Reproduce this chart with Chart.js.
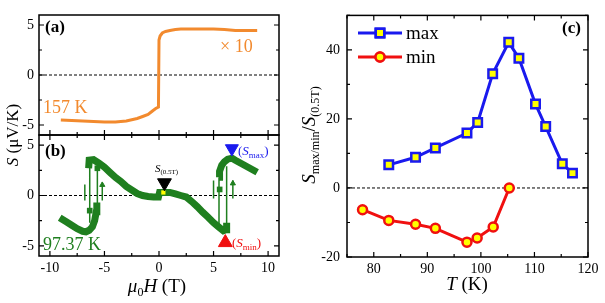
<!DOCTYPE html>
<html>
<head>
<meta charset="utf-8">
<script src="https://cdn.jsdelivr.net/npm/chart.js@4.4.0/dist/chart.umd.min.js"></script>
<style>
body { margin: 0; background: #fff; }
#wrap { position: relative; width: 605px; height: 303px; }
canvas { position: absolute; left: 0; top: 0; }
</style>
</head>
<body>
<div id="wrap">
  <canvas id="chartA" width="605" height="303"></canvas>
  <canvas id="chartB" width="605" height="303"></canvas>
  <canvas id="chartC" width="605" height="303"></canvas>
</div>
<script>
// ---- tick labels ----
var fieldTicks = [-10, -5, 0, 5, 10];
var seebeckTicks = [-5, 0, 5];
var tempTicks = [80, 90, 100, 110, 120];
var ratioTicks = [-20, 0, 20, 40];

// ---- panel (a): 157 K, S x10 vs field ----
var fieldA = [-9, -8, -7, -6, -5, -4, -3, -2, -1.5, -1, -0.6, -0.3, -0.05, 0.0, 0.1, 0.3, 0.6, 1.0, 1.5, 2, 3, 4, 5, 6, 7, 8, 9];
var seebeckA = [-4.5, -4.55, -4.6, -4.65, -4.7, -4.7, -4.6, -4.35, -4.15, -3.95, -3.6, -3.35, -3.2, 3.5, 3.9, 4.2, 4.35, 4.45, 4.55, 4.6, 4.6, 4.6, 4.6, 4.55, 4.45, 4.45, 4.45];

// ---- panel (b): 97.37 K ----
var fieldMain = [-6.45, -6.4, -6.0, -5.5, -5.0, -4.5, -4.0, -3.5, -3.0, -2.5, -2.0, -1.5, -1.0, -0.5, -0.05, 0.05, 0.5, 1.0, 1.5, 2.0, 2.5, 3.0, 3.5, 4.0, 4.5, 5.0, 5.5, 5.9, 6.15, 6.2];
var seebeckMain = [2.7, 3.5, 3.55, 3.2, 2.8, 2.3, 1.8, 1.4, 0.9, 0.55, 0.2, 0.0, -0.1, -0.15, -0.15, 0.3, 0.3, 0.3, 0.15, 0.0, -0.15, -0.6, -1.1, -1.65, -2.15, -2.7, -3.15, -3.5, -3.4, -2.7];
var fieldUp = [5.5, 5.55, 5.75, 6.0, 6.3, 6.7, 7.0, 7.5, 8.0, 8.5, 9.0];
var seebeckUp = [1.8, 2.4, 3.0, 3.35, 3.6, 3.7, 3.5, 3.2, 2.9, 2.6, 2.3];
var fieldLow = [-9.1, -8.5, -8.0, -7.5, -7.0, -6.7, -6.4, -6.1, -5.9, -5.75, -5.7];
var seebeckLow = [-2.2, -2.6, -2.95, -3.3, -3.55, -3.6, -3.45, -3.1, -2.5, -1.6, -0.7];
var jumpField = [-6.35, -5.65, 5.5, 6.2];
var jumpLow = [-2.7, -1.5, -3.4, -3.4];
var jumpHigh = [3.3, 2.8, 1.8, 2.9];
var arrowField = [-6.8, -5.2, 5.0, 6.77];
var arrowLow = [-0.5, -0.5, -0.3, -0.3];
var arrowHigh = [1.1, 1.3, 1.5, 1.5];
var headField = [-5.2, 6.77];
var headS = [1.05, 1.2];
var dotField = [-6.35, -5.65, 5.56];
var dotS = [-1.5, 2.7, 0.6];

// ---- panel (c): ratio vs T ----
var tempMax = [82.8, 87.8, 91.5, 97.4, 99.4, 102.2, 105.2, 107.1, 110.2, 112.1, 115.2, 117.1];
var ratioMax = [6.7, 8.9, 11.6, 15.9, 19.0, 33.1, 42.2, 37.6, 24.3, 17.8, 7.0, 4.3];
var tempMin = [77.9, 82.8, 87.8, 91.5, 97.4, 99.3, 102.3, 105.3];
var ratioMin = [-6.3, -9.4, -10.5, -11.7, -15.7, -14.5, -11.3, 0];

var SERIF = '"Liberation Serif", "DejaVu Serif", serif';
var ORANGE = '#f28a2e';
var GREEN = '#1f7f1f';
var BLUE = '#1a1aee';
var RED = '#f01010';

function pts(xs, ys) {
    return xs.map(function(x, i){ return {x: x, y: ys[i]}; });
}

// vertical segments separated by gaps
function segs(xs, lo, hi) {
    var out = [];
    xs.forEach(function(x, i){
        out.push({x: x, y: lo[i]}, {x: x, y: hi[i]}, {x: x, y: null});
    });
    return out;
}

function zeroLine(min, max) {
    return {
        data: [{x: min, y: 0}, {x: max, y: 0}],
        borderColor: '#000', borderWidth: 1, borderDash: [3, 2],
        pointRadius: 0, showLine: true, order: 10
    };
}

function fixedTicks(values) {
    return function(scale){
        scale.ticks = values.map(function(v){ return {value: v}; });
    };
}

// draw a sequence of text runs [text, font, dy, color]
function drawRuns(ctx, x, y, runs, align) {
    var w = 0;
    runs.forEach(function(r){ ctx.font = r[1]; w += ctx.measureText(r[0]).width; });
    var cx = align === 'center' ? x - w / 2 : x;
    ctx.textAlign = 'left';
    ctx.textBaseline = 'alphabetic';
    runs.forEach(function(r){
        ctx.font = r[1];
        if (r[3]) ctx.fillStyle = r[3];
        ctx.fillText(r[0], cx, y + (r[2] || 0));
        cx += ctx.measureText(r[0]).width;
    });
}

function drawRotated(ctx, x, y, runs) {
    ctx.save();
    ctx.translate(x, y);
    ctx.rotate(-Math.PI / 2);
    drawRuns(ctx, 0, 0, runs, 'center');
    ctx.restore();
}

// frame + inward ticks
var framePlugin = {
    id: 'frame',
    afterDatasetsDraw: function(chart, args, opts) {
        var ctx = chart.ctx, a = chart.chartArea;
        ctx.save();
        ctx.strokeStyle = '#000';
        ctx.lineWidth = 1.5;
        ctx.strokeRect(a.left, a.top, a.right - a.left, a.bottom - a.top);
        ctx.lineWidth = 1.2;
        var xs = chart.scales.x, ys = chart.scales.y;
        function each(scale, minor, major, fn) {
            var v = Math.ceil(scale.min / minor) * minor;
            for (; v <= scale.max + 1e-9; v += minor) {
                var isMajor = Math.abs(v / major - Math.round(v / major)) < 1e-6;
                fn(scale.getPixelForValue(v), isMajor ? 5 : 3);
            }
        }
        ctx.beginPath();
        each(xs, opts.xMinor, opts.xMajor, function(p, len){
            if (opts.sides.indexOf('b') >= 0) { ctx.moveTo(p, a.bottom); ctx.lineTo(p, a.bottom - len); }
            if (opts.sides.indexOf('t') >= 0) { ctx.moveTo(p, a.top); ctx.lineTo(p, a.top + len); }
        });
        each(ys, opts.yMinor, opts.yMajor, function(p, len){
            ctx.moveTo(a.left, p); ctx.lineTo(a.left + len, p);
            ctx.moveTo(a.right, p); ctx.lineTo(a.right - len, p);
        });
        ctx.stroke();
        ctx.restore();
    }
};

var labelPlugin = {
    id: 'labels',
    afterDraw: function(chart, args, opts) {
        var ctx = chart.ctx;
        ctx.save();
        opts.draw(ctx);
        ctx.restore();
    }
};

function baseOptions(pad, yWidth, xHeight, xTicks, yTicks, yPad) {
    return {
        responsive: false,
        animation: false,
        devicePixelRatio: 1,
        layout: { padding: pad },
        plugins: { legend: { display: false }, tooltip: { enabled: false } },
        elements: { line: { tension: 0 } },
        scales: {
            x: {
                type: 'linear',
                grid: { display: false, drawTicks: false, tickLength: 0 },
                border: { display: false },
                ticks: { font: { family: SERIF, size: 14 }, color: '#000', padding: 4, maxRotation: 0, autoSkip: false },
                afterBuildTicks: fixedTicks(xTicks),
                afterFit: function(s){ s.height = xHeight; }
            },
            y: {
                type: 'linear',
                grid: { display: false, drawTicks: false, tickLength: 0 },
                border: { display: false },
                ticks: { font: { family: SERIF, size: 14 }, color: '#000', padding: yPad, autoSkip: false },
                afterBuildTicks: fixedTicks(yTicks),
                afterFit: function(s){ s.width = yWidth; }
            }
        }
    };
}

// ---------- chart A ----------
var optA = baseOptions({left: 0, top: 15, right: 326, bottom: 168}, 39, 0, fieldTicks, seebeckTicks, 5);
optA.scales.x.min = -11; optA.scales.x.max = 11;
optA.scales.x.ticks.display = false;
optA.scales.y.min = -6; optA.scales.y.max = 6;
optA.plugins.frame = { xMinor: 2.5, xMajor: 5, yMinor: 2.5, yMajor: 5, sides: 'b' };
optA.plugins.labels = { draw: function(ctx){
    ctx.fillStyle = '#000';
    drawRuns(ctx, 45, 32, [['(a)', 'bold 17px ' + SERIF]]);
    drawRuns(ctx, 43, 113, [['157 K', '18px ' + SERIF, 0, ORANGE]]);
    drawRuns(ctx, 220, 52, [['\u00d7 10', '18px ' + SERIF, 0, ORANGE]]);
    ctx.fillStyle = '#000';
    drawRotated(ctx, 18, 135, [['S', 'italic 17px ' + SERIF], [' (\u03bcV/K)', '17px ' + SERIF]]);
}};

new Chart(document.getElementById('chartA'), {
    type: 'scatter',
    data: { datasets: [
        { data: pts(fieldA, seebeckA), showLine: true, borderColor: ORANGE, borderWidth: 3, pointRadius: 0 },
        zeroLine(-11, 11)
    ]},
    options: optA,
    plugins: [framePlugin, labelPlugin]
});

// ---------- chart B ----------
var optB = baseOptions({left: 0, top: 135, right: 326, bottom: 0}, 39, 47, fieldTicks, seebeckTicks, 5);
optB.scales.x.min = -11; optB.scales.x.max = 11;
optB.scales.y.min = -6; optB.scales.y.max = 6;
optB.plugins.frame = { xMinor: 2.5, xMajor: 5, yMinor: 2.5, yMajor: 5, sides: 'bt' };
optB.plugins.labels = { draw: function(ctx){
    ctx.fillStyle = '#000';
    drawRuns(ctx, 45, 156, [['(b)', 'bold 17px ' + SERIF]]);
    drawRuns(ctx, 43, 250, [['97.37 K', '18px ' + SERIF, 0, GREEN]]);
    drawRuns(ctx, 155, 172, [['S', 'italic 11px ' + SERIF, 0, '#000'], ['(0.5T)', '7px ' + SERIF, 2]]);
    drawRuns(ctx, 238, 155, [['(', '13px ' + SERIF, 0, BLUE], ['S', 'italic 13px ' + SERIF], ['max', '9px ' + SERIF, 3], [')', '13px ' + SERIF]]);
    drawRuns(ctx, 232, 247, [['(', '13px ' + SERIF, 0, RED], ['S', 'italic 13px ' + SERIF], ['min', '9px ' + SERIF, 3], [')', '13px ' + SERIF]]);
    ctx.fillStyle = '#000';
    drawRuns(ctx, 157, 292, [['\u03bc', 'italic 19px ' + SERIF], ['0', '12px ' + SERIF, 4], ['H', 'italic 19px ' + SERIF], [' (T)', '19px ' + SERIF]], 'center');
}};

new Chart(document.getElementById('chartB'), {
    type: 'scatter',
    data: { datasets: [
        { data: [{x: 0.5, y: 1.26}], pointStyle: 'triangle', rotation: 180, pointRadius: 8, backgroundColor: '#000', borderColor: '#000', borderWidth: 1 },
        { data: [{x: 6.68, y: 4.66}], pointStyle: 'triangle', rotation: 180, pointRadius: 7.5, backgroundColor: BLUE, borderColor: BLUE, borderWidth: 1 },
        { data: [{x: 6.08, y: -4.67}], pointStyle: 'triangle', pointRadius: 8, backgroundColor: RED, borderColor: RED, borderWidth: 1 },
        { data: [{x: 0.4, y: 0.3}], pointStyle: 'rect', pointRadius: 3, backgroundColor: '#ffff00', borderWidth: 0 },
        { data: pts(headField, headS), pointStyle: 'triangle', pointRadius: 3, backgroundColor: GREEN, borderColor: GREEN, borderWidth: 1 },
        { data: pts(dotField, dotS), pointStyle: 'rect', pointRadius: 4, backgroundColor: GREEN, borderWidth: 0 },
        { data: pts(fieldMain, seebeckMain), showLine: true, borderColor: GREEN, borderWidth: 7, pointRadius: 0 },
        { data: pts(fieldUp, seebeckUp), showLine: true, borderColor: GREEN, borderWidth: 7, pointRadius: 0 },
        { data: pts(fieldLow, seebeckLow), showLine: true, borderColor: GREEN, borderWidth: 7, pointRadius: 0 },
        { data: segs(jumpField, jumpLow, jumpHigh), showLine: true, spanGaps: false, borderColor: GREEN, borderWidth: 1.5, pointRadius: 0 },
        { data: segs(arrowField, arrowLow, arrowHigh), showLine: true, spanGaps: false, borderColor: GREEN, borderWidth: 1.5, pointRadius: 0 },
        zeroLine(-11, 11)
    ]},
    options: optB,
    plugins: [framePlugin, labelPlugin]
});

// ---------- chart C ----------
var optC = baseOptions({left: 300, top: 15, right: 17, bottom: 0}, 47, 46, tempTicks, ratioTicks, 7);
optC.scales.x.min = 75; optC.scales.x.max = 120;
optC.scales.y.min = -20; optC.scales.y.max = 50;
optC.plugins.frame = { xMinor: 5, xMajor: 10, yMinor: 10, yMajor: 20, sides: 'bt' };
optC.plugins.labels = { draw: function(ctx){
    ctx.fillStyle = '#000';
    drawRuns(ctx, 562, 33, [['(c)', 'bold 17px ' + SERIF]]);
    // legend
    var leg = [[BLUE, 'rect', 33, 'max'], [RED, 'circle', 57, 'min']];
    leg.forEach(function(l){
        ctx.strokeStyle = l[0]; ctx.lineWidth = 3;
        ctx.beginPath(); ctx.moveTo(358, l[2]); ctx.lineTo(402, l[2]); ctx.stroke();
        ctx.lineWidth = 2.5; ctx.fillStyle = '#ffff00';
        Chart.helpers.drawPoint(ctx, { pointStyle: l[1], radius: l[1] === 'rect' ? 6 : 4.5, borderWidth: 2.5 }, 380, l[2]);
        ctx.fill(); ctx.stroke();
        ctx.fillStyle = '#000';
        drawRuns(ctx, 406, l[2] + 6, [[l[3], '19px ' + SERIF]]);
    });
    drawRuns(ctx, 467, 290, [['T', 'italic 19px ' + SERIF], [' (K)', '19px ' + SERIF]], 'center');
    drawRotated(ctx, 315, 135, [['S', 'italic 19px ' + SERIF], ['max/min', '12px ' + SERIF, 4], ['/', '19px ' + SERIF], ['S', 'italic 19px ' + SERIF], ['(0.5T)', '12px ' + SERIF, 4]]);
}};

new Chart(document.getElementById('chartC'), {
    type: 'scatter',
    data: { datasets: [
        { data: pts(tempMax, ratioMax), showLine: true, borderColor: BLUE, borderWidth: 3,
          pointStyle: 'rect', pointRadius: 6, pointBorderWidth: 2.5, pointBackgroundColor: '#ffff00', pointBorderColor: BLUE },
        { data: pts(tempMin, ratioMin), showLine: true, borderColor: RED, borderWidth: 3,
          pointStyle: 'circle', pointRadius: 4.5, pointBorderWidth: 2.5, pointBackgroundColor: '#ffff00', pointBorderColor: RED },
        zeroLine(75, 120)
    ]},
    options: optC,
    plugins: [framePlugin, labelPlugin]
});
</script>
</body>
</html>
